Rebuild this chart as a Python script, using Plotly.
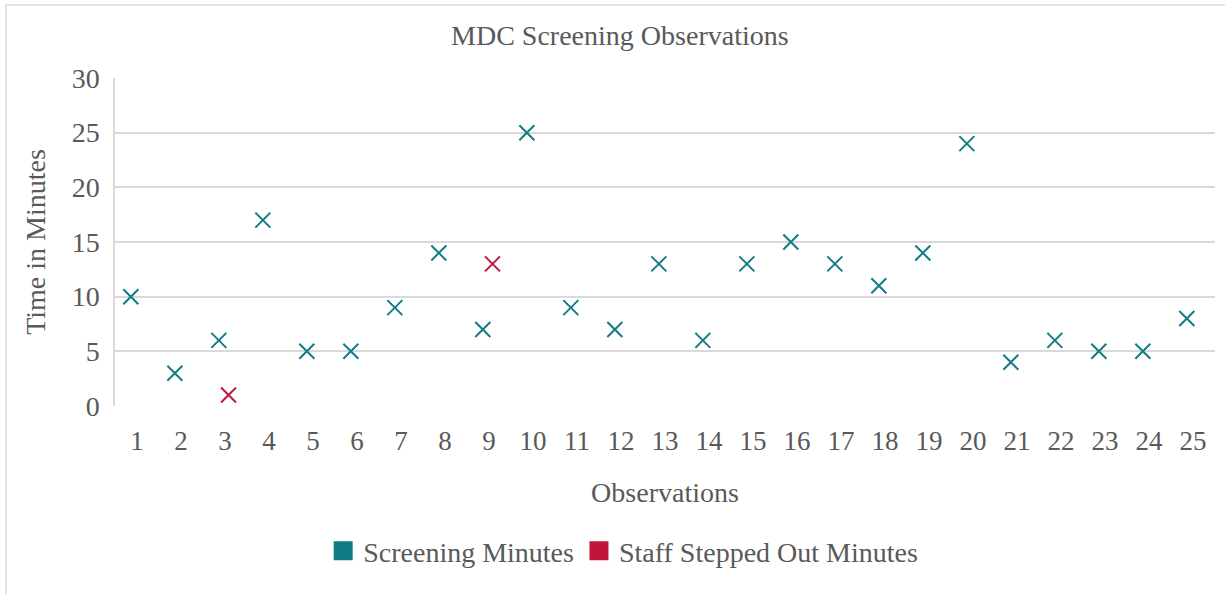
import numpy as np
import plotly.graph_objects as go

observations = list(range(1, 26))
screening_minutes = [10, 3, 6, 17, 5, 5, 9, 14, 7, 25, 9, 7, 13, 6, 13, 15, 13, 11, 14, 24, 4, 6, 5, 5, 8]
stepped_out_obs = [3, 9]
stepped_out_minutes = [1, 13]

TEAL = "#127C86"
RED = "#C0143C"
FONT = "Liberation Serif"
GRAY = "#595959"

fig = go.Figure()
fig.add_trace(go.Scatter(
    x=np.array(observations) - 0.14, y=screening_minutes, mode="markers",
    marker=dict(symbol="x-thin", size=15, line=dict(color=TEAL, width=2), color=TEAL),
    showlegend=False, name="Screening Minutes"))
fig.add_trace(go.Scatter(
    x=np.array(stepped_out_obs) + 0.08, y=stepped_out_minutes, mode="markers",
    marker=dict(symbol="x-thin", size=15, line=dict(color=RED, width=2), color=RED),
    showlegend=False, name="Staff Stepped Out Minutes"))
# legend entries (square swatches)
fig.add_trace(go.Scatter(x=[None], y=[None], mode="markers", name="Screening Minutes",
                         marker=dict(symbol="square", size=16, color=TEAL, line=dict(color=TEAL, width=3))))
fig.add_trace(go.Scatter(x=[None], y=[None], mode="markers", name="Staff Stepped Out Minutes",
                         marker=dict(symbol="square", size=16, color=RED, line=dict(color=RED, width=3))))

fig.update_layout(
    width=1225, height=594,
    paper_bgcolor="white", plot_bgcolor="white",
    margin=dict(l=115, r=10, t=78, b=188),
    font=dict(family=FONT, color=GRAY),
    title=dict(text="MDC Screening Observations", x=0.506, xanchor="center", y=0.94, yanchor="middle",
               font=dict(size=28, color=GRAY, family=FONT)),
    xaxis=dict(range=[0.5, 25.5], tickmode="array", tickvals=observations,
               ticktext=[str(o) for o in observations], showgrid=False, zeroline=False,
               showline=False, ticks="", tickfont=dict(size=27, color=GRAY), ticklabelstandoff=16,
               title=dict(text="Observations", font=dict(size=28, color=GRAY), standoff=27)),
    yaxis=dict(range=[0, 30], dtick=5, showgrid=True, gridcolor="#d9d9d9", gridwidth=1.5,
               zeroline=False, showline=True, linecolor="#d9d9d9", linewidth=1.5, ticks="",
               tickfont=dict(size=28, color=GRAY), ticklabelstandoff=8,
               title=dict(text="Time in Minutes", font=dict(size=28, color=GRAY), standoff=18)),
    legend=dict(orientation="h", x=0.462, xanchor="center", y=-0.442, yanchor="middle",
                font=dict(size=28, color=GRAY)),
    shapes=[dict(type="rect", xref="paper", yref="paper", x0=-0.0991, x1=1.05, y0=-0.7, y1=1.2226,
                 line=dict(color="#d9d9d9", width=1.5), layer="below")],
)

fig.write_html("out.html", config={"displayModeBar": False},
               post_script="document.body.style.margin='0';document.body.style.padding='0';document.body.style.overflow='hidden';")
